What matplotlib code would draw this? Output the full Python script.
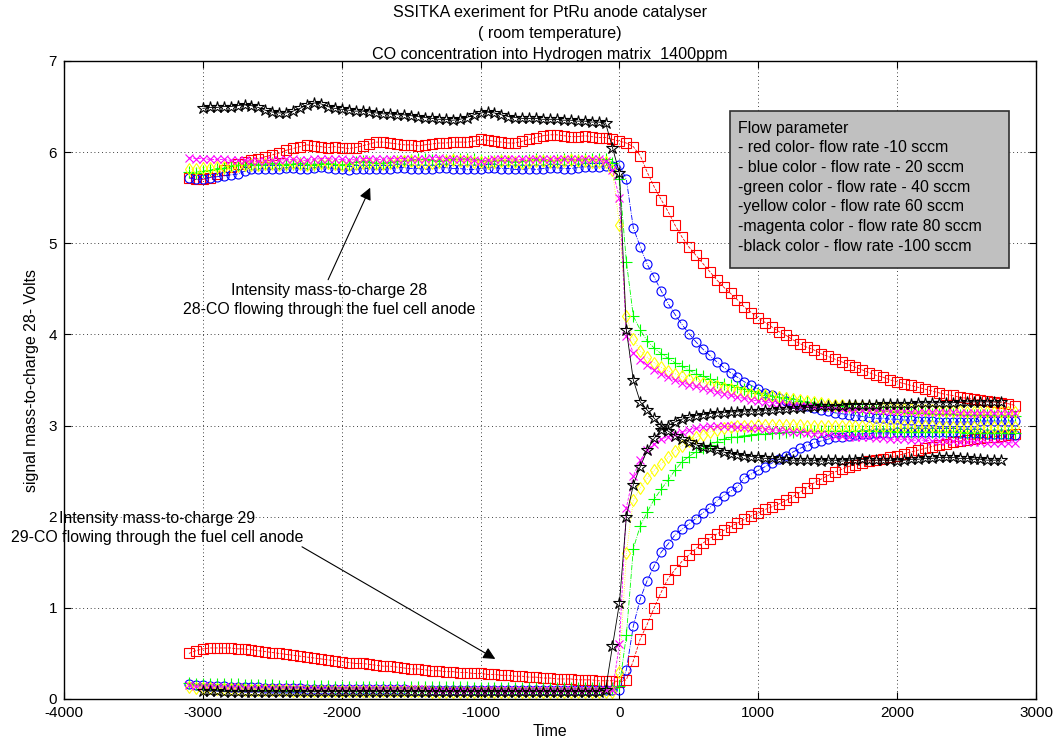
import numpy as np
import matplotlib
matplotlib.use("Agg")
import matplotlib.pyplot as plt
from matplotlib.patches import Rectangle

plt.rcParams["font.family"] = ["Liberation Sans", "DejaVu Sans"]
plt.rcParams["axes.unicode_minus"] = False

# Sampling instants (s); the CO step is switched at t = 0
TIME = [
    -3100, -3050, -3000, -2950, -2900, -2850, -2800, -2750, -2700, -2650,
    -2600, -2550, -2500, -2450, -2400, -2350, -2300, -2250, -2200, -2150,
    -2100, -2050, -2000, -1950, -1900, -1850, -1800, -1750, -1700, -1650,
    -1600, -1550, -1500, -1450, -1400, -1350, -1300, -1250, -1200, -1150,
    -1100, -1050, -1000, -950, -900, -850, -800, -750, -700, -650,
    -600, -550, -500, -450, -400, -350, -300, -250, -200, -150,
    -100, -50, 0, 50, 100, 150, 200, 250, 300, 350,
    400, 450, 500, 550, 600, 650, 700, 750, 800, 850,
    900, 950, 1000, 1050, 1100, 1150, 1200, 1250, 1300, 1350,
    1400, 1450, 1500, 1550, 1600, 1650, 1700, 1750, 1800, 1850,
    1900, 1950, 2000, 2050, 2100, 2150, 2200, 2250, 2300, 2350,
    2400, 2450, 2500, 2550, 2600, 2650, 2700, 2750, 2800, 2850,
]

# ---- red: 10 sccm ----
RED_28 = [
    5.72, 5.70, 5.70, 5.72, 5.76, 5.80, 5.84, 5.87, 5.89, 5.91,
    5.93, 5.95, 5.97, 5.99, 6.02, 6.04, 6.06, 6.08, 6.07, 6.06,
    6.05, 6.06, 6.05, 6.04, 6.05, 6.07, 6.09, 6.11, 6.11, 6.10,
    6.09, 6.08, 6.08, 6.07, 6.08, 6.09, 6.10, 6.10, 6.11, 6.11,
    6.11, 6.12, 6.14, 6.13, 6.12, 6.11, 6.10, 6.10, 6.12, 6.14,
    6.16, 6.18, 6.19, 6.19, 6.18, 6.17, 6.17, 6.18, 6.17, 6.16,
    6.16, 6.14, 6.12, 6.10, 6.06, 5.96, 5.78, 5.62, 5.48, 5.35,
    5.20, 5.07, 4.96, 4.87, 4.78, 4.69, 4.60, 4.52, 4.45, 4.38,
    4.30, 4.24, 4.18, 4.13, 4.08, 4.03, 3.99, 3.94, 3.90, 3.86,
    3.83, 3.79, 3.76, 3.73, 3.70, 3.67, 3.64, 3.61, 3.58, 3.55,
    3.53, 3.50, 3.48, 3.46, 3.44, 3.42, 3.40, 3.38, 3.36, 3.34,
    3.33, 3.31, 3.30, 3.29, 3.28, 3.27, 3.26, 3.25, 3.24, 3.22,
]
RED_29 = [
    0.50, 0.53, 0.55, 0.56, 0.56, 0.56, 0.56, 0.55, 0.55, 0.54,
    0.53, 0.52, 0.51, 0.50, 0.49, 0.48, 0.47, 0.46, 0.45, 0.44,
    0.43, 0.42, 0.41, 0.40, 0.39, 0.39, 0.38, 0.37, 0.36, 0.36,
    0.35, 0.34, 0.33, 0.33, 0.32, 0.31, 0.31, 0.30, 0.30, 0.29,
    0.29, 0.28, 0.28, 0.27, 0.27, 0.26, 0.26, 0.25, 0.25, 0.24,
    0.24, 0.23, 0.23, 0.22, 0.22, 0.22, 0.21, 0.21, 0.21, 0.20,
    0.20, 0.20, 0.19, 0.21, 0.42, 0.66, 0.82, 1.00, 1.17, 1.32,
    1.42, 1.51, 1.58, 1.65, 1.71, 1.76, 1.81, 1.85, 1.89, 1.93,
    1.97, 2.01, 2.04, 2.08, 2.11, 2.14, 2.18, 2.22, 2.27, 2.32,
    2.37, 2.41, 2.45, 2.49, 2.52, 2.55, 2.57, 2.59, 2.61, 2.62,
    2.63, 2.65, 2.67, 2.69, 2.71, 2.73, 2.75, 2.77, 2.79, 2.80,
    2.82, 2.83, 2.84, 2.85, 2.86, 2.87, 2.88, 2.89, 2.90, 2.91,
]

# ---- blue: 20 sccm ----
BLUE_28 = [
    5.72, 5.70, 5.71, 5.72, 5.73, 5.74, 5.75, 5.76, 5.79, 5.81,
    5.82, 5.82, 5.81, 5.82, 5.83, 5.83, 5.82, 5.82, 5.83, 5.84,
    5.83, 5.82, 5.81, 5.80, 5.81, 5.82, 5.82, 5.81, 5.81, 5.82,
    5.83, 5.83, 5.82, 5.82, 5.81, 5.82, 5.83, 5.83, 5.82, 5.82,
    5.81, 5.81, 5.82, 5.83, 5.83, 5.82, 5.82, 5.81, 5.81, 5.82,
    5.81, 5.82, 5.83, 5.83, 5.82, 5.82, 5.83, 5.84, 5.84, 5.84,
    5.85, 5.85, 5.86, 5.70, 5.17, 4.96, 4.77, 4.63, 4.48, 4.34,
    4.22, 4.11, 4.01, 3.92, 3.84, 3.77, 3.70, 3.64, 3.58, 3.53,
    3.48, 3.44, 3.40, 3.36, 3.33, 3.30, 3.27, 3.25, 3.23, 3.21,
    3.19, 3.17, 3.16, 3.14, 3.13, 3.12, 3.11, 3.10, 3.09, 3.08,
    3.08, 3.07, 3.07, 3.06, 3.06, 3.05, 3.05, 3.05, 3.04, 3.04,
    3.04, 3.04, 3.04, 3.04, 3.05, 3.05, 3.05, 3.05, 3.05, 3.05,
]
BLUE_29 = [
    0.16, 0.15, 0.15, 0.14, 0.14, 0.14, 0.13, 0.13, 0.13, 0.13,
    0.13, 0.12, 0.12, 0.12, 0.12, 0.12, 0.12, 0.11, 0.11, 0.11,
    0.11, 0.11, 0.11, 0.11, 0.11, 0.11, 0.11, 0.11, 0.11, 0.11,
    0.11, 0.11, 0.10, 0.10, 0.10, 0.10, 0.10, 0.10, 0.10, 0.10,
    0.10, 0.10, 0.10, 0.10, 0.10, 0.10, 0.10, 0.10, 0.10, 0.10,
    0.10, 0.10, 0.10, 0.10, 0.10, 0.10, 0.10, 0.10, 0.10, 0.10,
    0.10, 0.10, 0.10, 0.32, 0.80, 1.10, 1.30, 1.46, 1.61, 1.70,
    1.80, 1.86, 1.92, 1.98, 2.04, 2.10, 2.17, 2.23, 2.28, 2.33,
    2.43, 2.47, 2.51, 2.55, 2.59, 2.63, 2.67, 2.71, 2.75, 2.78,
    2.81, 2.83, 2.85, 2.87, 2.88, 2.89, 2.90, 2.91, 2.91, 2.92,
    2.92, 2.92, 2.93, 2.93, 2.93, 2.93, 2.93, 2.93, 2.93, 2.93,
    2.93, 2.92, 2.92, 2.92, 2.92, 2.91, 2.91, 2.91, 2.91, 2.90,
]

# ---- green: 40 sccm ----
GREEN_28 = [
    5.78, 5.77, 5.79, 5.80, 5.82, 5.83, 5.85, 5.86, 5.86, 5.87,
    5.86, 5.87, 5.88, 5.87, 5.86, 5.87, 5.88, 5.87, 5.86, 5.87,
    5.88, 5.87, 5.86, 5.87, 5.89, 5.90, 5.89, 5.88, 5.88, 5.89,
    5.90, 5.90, 5.91, 5.92, 5.92, 5.91, 5.90, 5.91, 5.92, 5.93,
    5.93, 5.92, 5.91, 5.90, 5.90, 5.91, 5.90, 5.89, 5.90, 5.91,
    5.92, 5.91, 5.90, 5.91, 5.92, 5.92, 5.91, 5.92, 5.92, 5.92,
    5.92, 5.88, 5.70, 4.80, 4.20, 4.05, 3.93, 3.85, 3.79, 3.74,
    3.69, 3.65, 3.61, 3.57, 3.54, 3.51, 3.48, 3.46, 3.44, 3.42,
    3.40, 3.38, 3.36, 3.34, 3.32, 3.31, 3.30, 3.29, 3.27, 3.26,
    3.25, 3.24, 3.23, 3.22, 3.21, 3.20, 3.19, 3.18, 3.17, 3.17,
    3.16, 3.16, 3.15, 3.15, 3.14, 3.14, 3.14, 3.13, 3.13, 3.13,
    3.13, 3.12, 3.12, 3.12, 3.12, 3.12, 3.11, 3.11, 3.11, 3.11,
]
GREEN_29 = [
    0.18, 0.17, 0.17, 0.17, 0.16, 0.16, 0.16, 0.16, 0.15, 0.15,
    0.15, 0.15, 0.15, 0.14, 0.14, 0.14, 0.14, 0.14, 0.14, 0.14,
    0.14, 0.13, 0.13, 0.13, 0.13, 0.13, 0.13, 0.13, 0.13, 0.13,
    0.13, 0.13, 0.13, 0.13, 0.13, 0.13, 0.13, 0.13, 0.13, 0.13,
    0.13, 0.12, 0.12, 0.12, 0.12, 0.12, 0.12, 0.12, 0.12, 0.12,
    0.12, 0.12, 0.12, 0.12, 0.12, 0.12, 0.12, 0.12, 0.12, 0.12,
    0.12, 0.12, 0.14, 0.70, 1.65, 1.90, 2.05, 2.19, 2.30, 2.40,
    2.51, 2.60, 2.66, 2.71, 2.75, 2.79, 2.82, 2.85, 2.87, 2.88,
    2.89, 2.90, 2.91, 2.91, 2.92, 2.92, 2.93, 2.93, 2.93, 2.94,
    2.94, 2.94, 2.94, 2.94, 2.94, 2.94, 2.94, 2.94, 2.94, 2.94,
    2.94, 2.94, 2.93, 2.93, 2.93, 2.93, 2.93, 2.93, 2.93, 2.93,
    2.93, 2.93, 2.92, 2.92, 2.92, 2.92, 2.92, 2.92, 2.92, 2.92,
]

# ---- yellow: 60 sccm ----
YELLOW_28 = [
    5.81, 5.82, 5.83, 5.83, 5.84, 5.84, 5.85, 5.85, 5.86, 5.86,
    5.86, 5.87, 5.87, 5.86, 5.87, 5.88, 5.87, 5.86, 5.87, 5.88,
    5.88, 5.87, 5.86, 5.86, 5.87, 5.88, 5.88, 5.87, 5.87, 5.88,
    5.89, 5.90, 5.90, 5.89, 5.88, 5.88, 5.89, 5.90, 5.91, 5.90,
    5.90, 5.89, 5.89, 5.88, 5.89, 5.90, 5.90, 5.89, 5.88, 5.89,
    5.90, 5.90, 5.89, 5.89, 5.90, 5.91, 5.90, 5.90, 5.89, 5.89,
    5.89, 5.80, 5.20, 4.20, 3.95, 3.82, 3.75, 3.69, 3.64, 3.60,
    3.57, 3.54, 3.51, 3.49, 3.47, 3.45, 3.43, 3.41, 3.40, 3.38,
    3.37, 3.35, 3.34, 3.33, 3.32, 3.31, 3.30, 3.29, 3.28, 3.27,
    3.26, 3.25, 3.24, 3.23, 3.23, 3.22, 3.21, 3.21, 3.20, 3.20,
    3.19, 3.19, 3.18, 3.18, 3.18, 3.17, 3.17, 3.17, 3.16, 3.16,
    3.16, 3.16, 3.15, 3.15, 3.15, 3.15, 3.15, 3.15, 3.15, 3.15,
]
YELLOW_29 = [
    0.13, 0.12, 0.12, 0.12, 0.11, 0.11, 0.11, 0.11, 0.10, 0.10,
    0.10, 0.10, 0.10, 0.10, 0.10, 0.09, 0.09, 0.09, 0.09, 0.09,
    0.09, 0.09, 0.09, 0.09, 0.09, 0.09, 0.09, 0.09, 0.09, 0.09,
    0.09, 0.09, 0.09, 0.09, 0.09, 0.08, 0.08, 0.08, 0.08, 0.08,
    0.08, 0.08, 0.08, 0.08, 0.08, 0.08, 0.08, 0.08, 0.08, 0.08,
    0.08, 0.08, 0.08, 0.08, 0.08, 0.08, 0.08, 0.08, 0.08, 0.08,
    0.08, 0.08, 0.30, 1.60, 2.18, 2.32, 2.42, 2.51, 2.58, 2.65,
    2.72, 2.78, 2.83, 2.87, 2.90, 2.93, 2.95, 2.97, 2.98, 2.99,
    3.00, 3.00, 3.01, 3.01, 3.01, 3.01, 3.01, 3.01, 3.01, 3.00,
    3.00, 3.00, 3.00, 3.00, 3.00, 3.00, 3.00, 3.00, 3.00, 3.00,
    3.00, 2.99, 2.99, 2.99, 2.99, 2.99, 2.99, 2.99, 2.98, 2.98,
    2.98, 2.98, 2.98, 2.98, 2.98, 2.98, 2.98, 2.98, 2.98, 2.98,
]

# ---- magenta: 80 sccm ----
MAGENTA_28 = [
    5.94, 5.93, 5.93, 5.92, 5.92, 5.92, 5.91, 5.91, 5.91, 5.90,
    5.90, 5.90, 5.91, 5.91, 5.92, 5.92, 5.91, 5.91, 5.92, 5.93,
    5.93, 5.92, 5.92, 5.91, 5.92, 5.93, 5.93, 5.92, 5.92, 5.93,
    5.93, 5.93, 5.92, 5.92, 5.93, 5.94, 5.94, 5.93, 5.93, 5.92,
    5.92, 5.91, 5.90, 5.91, 5.92, 5.93, 5.93, 5.92, 5.92, 5.93,
    5.93, 5.92, 5.92, 5.93, 5.93, 5.92, 5.92, 5.93, 5.93, 5.92,
    5.90, 5.80, 5.50, 3.98, 3.80, 3.72, 3.66, 3.61, 3.57, 3.53,
    3.50, 3.47, 3.45, 3.43, 3.41, 3.39, 3.37, 3.35, 3.33, 3.31,
    3.30, 3.28, 3.27, 3.26, 3.25, 3.24, 3.23, 3.22, 3.21, 3.21,
    3.20, 3.20, 3.19, 3.19, 3.18, 3.18, 3.18, 3.17, 3.17, 3.17,
    3.16, 3.16, 3.16, 3.16, 3.15, 3.15, 3.15, 3.15, 3.15, 3.15,
    3.15, 3.14, 3.14, 3.14, 3.14, 3.14, 3.14, 3.14, 3.14, 3.14,
]
MAGENTA_29 = [
    0.15, 0.14, 0.14, 0.14, 0.13, 0.13, 0.13, 0.13, 0.12, 0.12,
    0.12, 0.12, 0.12, 0.12, 0.12, 0.12, 0.12, 0.11, 0.11, 0.11,
    0.11, 0.11, 0.11, 0.11, 0.11, 0.11, 0.11, 0.11, 0.11, 0.11,
    0.11, 0.11, 0.11, 0.11, 0.11, 0.10, 0.10, 0.10, 0.10, 0.10,
    0.10, 0.10, 0.10, 0.10, 0.10, 0.10, 0.10, 0.10, 0.10, 0.10,
    0.10, 0.10, 0.10, 0.10, 0.10, 0.10, 0.10, 0.10, 0.10, 0.10,
    0.10, 0.10, 0.60, 2.10, 2.45, 2.62, 2.73, 2.80, 2.85, 2.88,
    2.91, 2.93, 2.95, 2.97, 2.98, 2.99, 2.99, 2.99, 2.99, 2.98,
    2.98, 2.97, 2.97, 2.96, 2.95, 2.95, 2.94, 2.93, 2.93, 2.92,
    2.91, 2.91, 2.90, 2.89, 2.89, 2.88, 2.88, 2.87, 2.87, 2.86,
    2.86, 2.85, 2.85, 2.85, 2.84, 2.84, 2.84, 2.83, 2.83, 2.83,
    2.83, 2.82, 2.82, 2.82, 2.82, 2.81, 2.81, 2.81, 2.81, 2.81,
]

# ---- black: 100 sccm (logged from -3000 s to 2750 s) ----
BLACK_28 = [
    None, None, 6.48, 6.49, 6.49, 6.50, 6.50, 6.51, 6.52, 6.51,
    6.49, 6.46, 6.44, 6.43, 6.43, 6.45, 6.48, 6.52, 6.54, 6.53,
    6.50, 6.48, 6.47, 6.46, 6.45, 6.45, 6.44, 6.43, 6.42, 6.42,
    6.41, 6.41, 6.40, 6.39, 6.38, 6.37, 6.36, 6.36, 6.35, 6.36,
    6.38, 6.41, 6.43, 6.44, 6.43, 6.41, 6.39, 6.38, 6.37, 6.37,
    6.37, 6.36, 6.36, 6.36, 6.35, 6.35, 6.34, 6.34, 6.33, 6.33,
    6.32, 6.05, 5.77, 4.05, 3.50, 3.26, 3.17, 3.08, 3.00, 2.94,
    2.89, 2.85, 2.82, 2.79, 2.77, 2.75, 2.73, 2.71, 2.69, 2.68,
    2.67, 2.66, 2.65, 2.64, 2.64, 2.63, 2.63, 2.62, 2.62, 2.62,
    2.62, 2.61, 2.62, 2.62, 2.61, 2.62, 2.62, 2.63, 2.62, 2.62,
    2.62, 2.62, 2.61, 2.62, 2.63, 2.63, 2.64, 2.64, 2.65, 2.65,
    2.65, 2.64, 2.64, 2.63, 2.63, 2.62, 2.62, 2.62, None, None,
]
BLACK_29 = [
    None, None, 0.09, 0.09, 0.09, 0.08, 0.08, 0.08, 0.08, 0.08,
    0.08, 0.08, 0.08, 0.08, 0.08, 0.08, 0.08, 0.08, 0.08, 0.08,
    0.08, 0.08, 0.08, 0.08, 0.08, 0.08, 0.08, 0.08, 0.08, 0.08,
    0.08, 0.08, 0.08, 0.08, 0.08, 0.08, 0.08, 0.08, 0.08, 0.08,
    0.08, 0.08, 0.08, 0.08, 0.08, 0.08, 0.08, 0.08, 0.08, 0.08,
    0.08, 0.08, 0.08, 0.08, 0.08, 0.08, 0.08, 0.08, 0.08, 0.08,
    0.10, 0.58, 1.05, 2.00, 2.35, 2.55, 2.73, 2.86, 2.95, 3.00,
    3.04, 3.07, 3.09, 3.11, 3.12, 3.13, 3.14, 3.14, 3.15, 3.15,
    3.16, 3.16, 3.16, 3.17, 3.17, 3.18, 3.18, 3.19, 3.19, 3.20,
    3.20, 3.21, 3.21, 3.22, 3.22, 3.23, 3.23, 3.23, 3.23, 3.23,
    3.24, 3.24, 3.24, 3.24, 3.24, 3.25, 3.25, 3.25, 3.25, 3.25,
    3.25, 3.26, 3.26, 3.26, 3.26, 3.26, 3.26, 3.26, None, None,
]

LEGEND_LINES = [
    "Flow parameter",
    "- red color- flow rate -10 sccm",
    "- blue color - flow rate - 20 sccm",
    "-green color - flow rate - 40 sccm",
    "-yellow color - flow rate 60 sccm",
    "-magenta color - flow rate 80 sccm",
    "-black color - flow rate -100 sccm",
]

# MATLAB-like line specs per flow rate
STYLES = [
    (RED_28, RED_29, dict(color=(1, 0, 0), ls="--", marker="s", ms=7.5)),
    (BLUE_28, BLUE_29, dict(color=(0, 0, 1), ls="-.", marker="o", ms=6.5)),
    (GREEN_28, GREEN_29, dict(color=(0, 1, 0), ls="-.", marker="+", ms=8.5)),
    (YELLOW_28, YELLOW_29, dict(color=(1, 1, 0), ls=":", marker="d", ms=6.5)),
    (MAGENTA_28, MAGENTA_29, dict(color=(1, 0, 1), ls="--", marker="x", ms=5.5)),
    (BLACK_28, BLACK_29, dict(color=(0, 0, 0), ls="-", marker="*", ms=9)),
]

FS = 11.4

W, H = 1055, 740
fig = plt.figure(figsize=(W / 100, H / 100), dpi=100)
L, R, T, B = 64, 1036, 61, 699
ax = fig.add_axes([L / W, 1 - B / H, (R - L) / W, (B - T) / H])

t = np.array(TIME, dtype=float)
for s28, s29, st in STYLES:
    for series in (s28, s29):
        y = np.array(series, dtype=float)
        ax.plot(t, y, linestyle=st["ls"], color=st["color"], lw=0.6,
                marker=st["marker"], ms=st["ms"], mfc="none",
                mec=st["color"], mew=0.8)

ax.set_xlim(-4000, 3000)
ax.set_ylim(0, 7)
ax.set_xticks(range(-4000, 3001, 1000))
ax.set_yticks(range(0, 8))
ax.grid(True, color="black", linestyle=(0, (1, 3.5)), lw=0.6)
ax.tick_params(direction="in", top=True, right=True, length=5, width=0.8,
               labelsize=11, pad=5)
for sp in ax.spines.values():
    sp.set_linewidth(1.0)

# annotations with arrows
ax.annotate("", xy=(-1795, 5.61), xytext=(-2098, 4.60),
            arrowprops=dict(arrowstyle="-|>", color="black", lw=0.8,
                            mutation_scale=18, shrinkA=0, shrinkB=0))
ax.text(-2091, 4.38,
        "Intensity mass-to-charge 28\n28-CO flowing through the fuel cell anode",
        ha="center", va="center", multialignment="center", fontsize=FS,
        linespacing=1.32)
ax.annotate("", xy=(-894, 0.44), xytext=(-2286, 1.67),
            arrowprops=dict(arrowstyle="-|>", color="black", lw=0.8,
                            mutation_scale=18, shrinkA=0, shrinkB=0))
ax.text(-3330, 1.88,
        "Intensity mass-to-charge 29\n29-CO flowing through the fuel cell anode",
        ha="center", va="center", multialignment="center", fontsize=FS,
        linespacing=1.32, clip_on=False)

# grey parameter box
box = Rectangle((730 / W, 1 - 268 / H), 279 / W, 157 / H, transform=fig.transFigure,
                facecolor="#c0c0c0", edgecolor="#303030", lw=1.2, zorder=10)
fig.add_artist(box)
for i, line in enumerate(LEGEND_LINES):
    fig.text(738 / W, 1 - (128 + i * 19.7) / H, line, ha="left", va="center",
             fontsize=FS, zorder=11)

# titles and axis labels
TITLES = ["SSITKA exeriment for PtRu anode catalyser", "( room temperature)",
          "CO concentration into Hydrogen matrix  1400ppm"]
for i, line in enumerate(TITLES):
    fig.text(550 / W, 1 - (12 + i * 21.5) / H, line, ha="center", va="center",
             fontsize=11.6, zorder=12)
fig.text(550 / W, 1 - 731 / H, "Time", ha="center", va="center", fontsize=FS)
fig.text(32 / W, 1 - 380 / H, "signal mass-to-charge 28- Volts", ha="center",
         va="center", rotation=90, fontsize=FS)

fig.savefig("out.png", dpi=100)
